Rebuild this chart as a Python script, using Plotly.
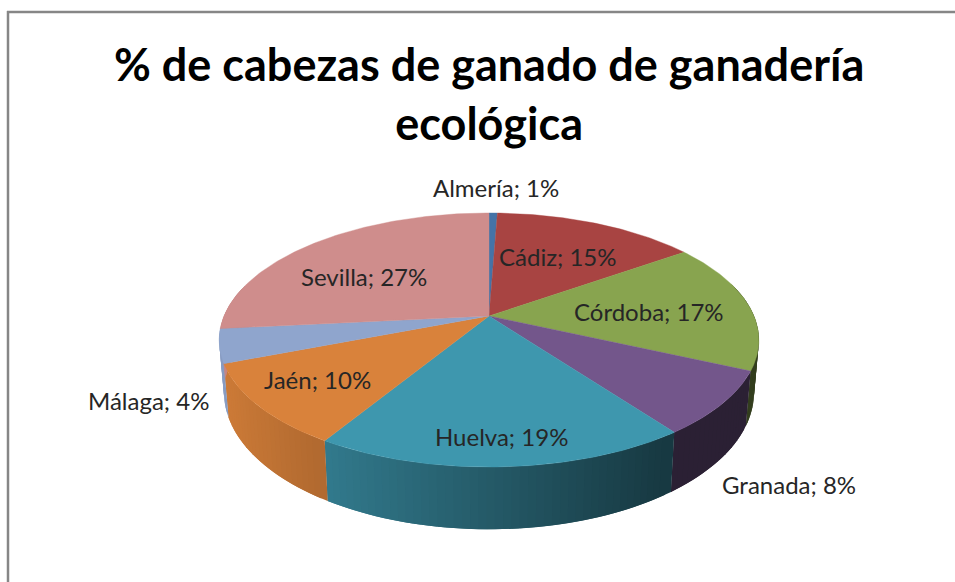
import math
import plotly.graph_objects as go

# ---- data
categories = ["Almería", "Cádiz", "Córdoba", "Granada", "Huelva", "Jaén", "Málaga", "Sevilla"]
values = [0.6, 14.6, 16.6, 8.1, 18.8, 10.4, 4.3, 26.6]
title_lines = ["% de cabezas de ganado de ganadería", "ecológica"]

# ---- style
colors = ["#4573a7", "#a84442", "#88a44f", "#73568b", "#3e97ae", "#d9823b", "#8fa5cd", "#cf8d8c"]
label_centers = [(496, 187), (558, 256), (649, 311), (789, 484), (501, 436), (317, 379), (148, 400), (364, 276)]
FONT = "Lato, Carlito, Calibri, sans-serif"
W, H = 955, 582

# ---- perspective of the pie's disc, in screen pixels
CX, CY = 489, 316      # apex
RX, RY, K = 265, 122.5, 0.189
DEPTH, SHRINK = 50.5, 0.982


def top(theta):
    x, y = math.sin(theta), math.cos(theta)
    d = 1 + K * y
    return CX + RX * x / d, CY - RY * y / d


def bottom(theta):
    sx, sy = top(theta)
    d = 1 + K * math.cos(theta)
    return CX + (sx - CX) * SHRINK, sy + DEPTH / d


def shade(hex_color, f):
    r, g, b = (int(hex_color[i:i + 2], 16) for i in (1, 3, 5))
    return f"rgb({int(r * f)},{int(g * f)},{int(b * f)})"


total = sum(values)
bounds = [0.0]
for v in values:
    bounds.append(bounds[-1] + v / total * 2 * math.pi)

fig = go.Figure()
STEP = math.radians(1.5)


def poly(xs, ys, color, lw=0.0):
    fig.add_trace(go.Scatter(
        x=xs, y=ys, mode="lines", fill="toself", fillcolor=color,
        line=dict(color=color, width=lw), hoverinfo="skip", showlegend=False,
    ))


# side wall, shaded from left to right in thin overlapping strips
for i, col in enumerate(colors):
    a0, a1 = bounds[i], bounds[i + 1]
    n = max(1, math.ceil((a1 - a0) / STEP))
    # paint from the far end so every strip overlaps the previous one
    for j in reversed(range(n)):
        t0 = a0 + (a1 - a0) * j / n
        t1 = min(a1, a0 + (a1 - a0) * (j + 2) / n)
        if math.cos((t0 + t1) / 2) > 0.25:
            continue
        p = [top(t0), top(t1), bottom(t1), bottom(t0), top(t0)]
        mid = a0 + (a1 - a0) * (j + 0.5) / n
        xm = (top(mid)[0] + bottom(mid)[0]) / 2
        f = max(0.38, min(0.95, 0.95 - (xm - 222) * 0.57 / 448))
        poly([q[0] for q in p], [q[1] for q in p], shade(col, f), 0)

# top face of each slice
for i, col in enumerate(colors):
    a0, a1 = bounds[i], bounds[i + 1]
    n = max(2, math.ceil((a1 - a0) / (STEP / 2)))
    pts = [top(a0 + (a1 - a0) * j / n) for j in range(n + 1)]
    xs = [CX] + [q[0] for q in pts] + [CX]
    ys = [CY] + [q[1] for q in pts] + [CY]
    poly(xs, ys, col, 0.4)

for name, v, (lx, ly) in zip(categories, values, label_centers):
    fig.add_annotation(
        x=lx, y=ly, xref="x", yref="y", showarrow=False,
        text=f"{name}; {round(v)}%", xanchor="center", yanchor="middle",
        font=dict(family=FONT, size=24, color="#262626"),
    )

fig.add_annotation(
    x=488.5, y=93, xref="x", yref="y", showarrow=False, xanchor="center", yanchor="middle",
    text="<br>".join(f"<b>{t}</b>" for t in title_lines), align="center",
    font=dict(family=FONT, size=45, color="#000000"),
)

# chart frame: only the top and left edges are in view
fig.add_shape(type="line", xref="x", yref="y", x0=7, y0=12, x1=955, y1=12, line=dict(color="#868686", width=2.5))
fig.add_shape(type="line", xref="x", yref="y", x0=8, y0=11, x1=8, y1=582, line=dict(color="#868686", width=2.5))

fig.update_layout(
    width=W, height=H, margin=dict(l=0, r=0, t=0, b=0),
    paper_bgcolor="white", plot_bgcolor="white", showlegend=False,
    xaxis=dict(range=[0, W], visible=False, fixedrange=True),
    yaxis=dict(range=[H, 0], visible=False, fixedrange=True),
)
fig.write_html("out.html", config={"displayModeBar": False},
               post_script="document.body.style.margin='0';document.body.style.overflow='hidden';")
